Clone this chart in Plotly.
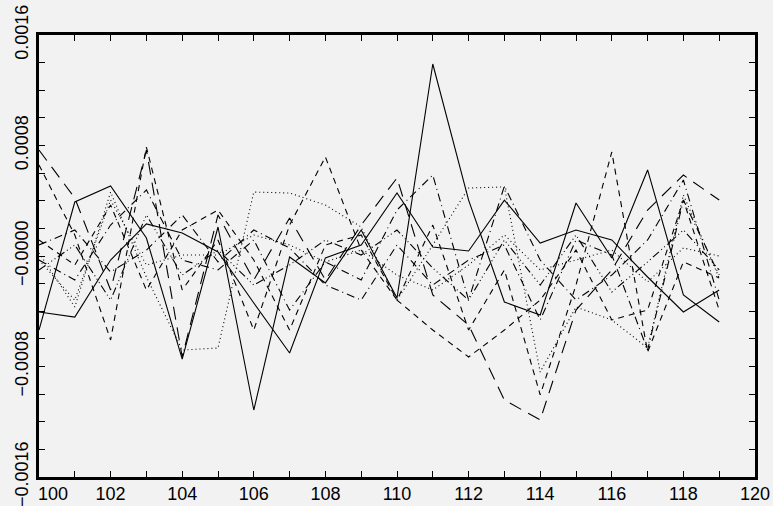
import plotly.graph_objects as go

x_vals = list(range(100, 120))

s1 = [-5.36e-4, 3.91e-4, 5.07e-4, 1.30e-4, -7.46e-4, 2.10e-4, -11.15e-4, -0.07e-4, -1.95e-4, 1.88e-4,
      -3.04e-4, 13.90e-4, 4.05e-4, -3.33e-4, -4.27e-4, 3.84e-4, -0.14e-4, 6.23e-4, -2.82e-4, -4.78e-4]
s2 = [-4.05e-4, -4.42e-4, -0.29e-4, 2.32e-4, 1.67e-4, 0.29e-4, -3.40e-4, -7.02e-4, -0.14e-4, 0.80e-4,
      4.56e-4, 0.65e-4, 0.36e-4, 4.05e-4, 0.94e-4, 1.88e-4, 1.16e-4, -1.52e-4, -4.05e-4, -2.46e-4]
p1 = [0.22e-4, -3.69e-4, 4.63e-4, -1.52e-4, -6.81e-4, -6.66e-4, 4.63e-4, 4.56e-4, 3.69e-4, 2.10e-4,
      -3.19e-4, 0.80e-4, 4.92e-4, 5.00e-4, -8.40e-4, -3.69e-4, -4.63e-4, -6.66e-4, 4.42e-4, -1.59e-4]
p2 = [-0.29e-4, -3.19e-4, 4.05e-4, -0.65e-4, 0.07e-4, 0.07e-4, 1.52e-4, 0.80e-4, -0.43e-4, 0.43e-4,
      -1.38e-4, -2.46e-4, -0.65e-4, 1.52e-4, -1.01e-4, -0.29e-4, 0.43e-4, -1.88e-4, 0.58e-4, 0.0]
d1 = [6.59e-4, 1.52e-4, -6.08e-4, 7.89e-4, -2.46e-4, 1.16e-4, -5.36e-4, 2.24e-4, 7.17e-4, 0.43e-4,
      -3.19e-4, 2.24e-4, -5.36e-4, -1.01e-4, -10.06e-4, -2.10e-4, 7.53e-4, -6.95e-4, -0.43e-4, -1.59e-4]
d2 = [1.16e-4, -0.65e-4, 3.69e-4, -2.46e-4, 1.88e-4, 3.33e-4, -0.29e-4, -5.36e-4, 0.80e-4, 1.52e-4,
      -3.19e-4, -5.36e-4, -7.31e-4, -5.36e-4, -3.19e-4, 0.43e-4, -4.63e-4, -3.91e-4, 4.05e-4, -3.91e-4]
ld1 = [7.67e-4, 4.20e-4, -2.46e-4, 7.67e-4, -7.31e-4, 2.97e-4, -1.74e-4, 2.75e-4, -1.74e-4, 2.24e-4,
       5.65e-4, -2.82e-4, -5.00e-4, -10.43e-4, -11.87e-4, -3.91e-4, -1.01e-4, 3.33e-4, 5.86e-4, 4.05e-4]
dd1 = [-0.29e-4, -1.74e-4, 2.24e-4, 4.78e-4, -0.29e-4, -1.01e-4, 1.16e-4, -3.91e-4, -0.43e-4, -1.74e-4,
       3.33e-4, 5.86e-4, -3.19e-4, 5.07e-4, -0.29e-4, -3.19e-4, -1.38e-4, 1.16e-4, 5.50e-4, -3.19e-4]
dd2 = [0.80e-4, 1.88e-4, -1.16e-4, 0.43e-4, 2.97e-4, -0.43e-4, 1.88e-4, 0.58e-4, -2.10e-4, -3.19e-4,
       0.80e-4, -2.10e-4, -0.29e-4, 0.80e-4, -4.63e-4, 1.16e-4, 0.07e-4, -6.81e-4, 4.05e-4, -1.38e-4]
ddd = [-1.01e-4, 0.80e-4, -3.19e-4, 2.97e-4, -1.38e-4, 0.43e-4, -2.10e-4, -0.65e-4, 1.16e-4, 0.07e-4,
       1.88e-4, -0.87e-4, -3.19e-4, 1.16e-4, -2.10e-4, 1.52e-4, -2.61e-4, -0.43e-4, 1.88e-4, -1.01e-4]

series = [s1, p1, d1, dd1, ddd, ld1, s2, p2, d2, dd2]
dashes = ["solid", "1px,3px", "6px,5px", "8px,4px,1px,4px",
          "8px,3px,1px,3px,1px,3px,1px,3px", "13px,8px",
          "solid", "1px,3px", "6px,5px", "8px,4px,1px,4px"]

x_tickvals = list(range(100, 121))
x_ticktext = ["" if (v % 2 or v == 100) else str(v) for v in x_tickvals]
y_tickvals = [round(i * 0.0002, 6) for i in range(-8, 9)]
y_labels = {-8: "\u22120.0016", -4: "\u22120.0008", 0: "\u22120.0000", 4: "0.0008", 8: "0.0016"}
y_ticktext = [y_labels.get(i, "") for i in range(-8, 9)]

FONT = "Liberation Sans, Arial, sans-serif"

fig = go.Figure()
for ys, dsh in zip(series, dashes):
    fig.add_trace(go.Scatter(x=x_vals, y=ys, mode="lines",
                             line=dict(color="black", width=1.1, dash=dsh),
                             showlegend=False, hoverinfo="skip"))

fig.add_annotation(x=100, y=0, xref="x", yref="paper", text="100", showarrow=False,
                   xanchor="left", yanchor="top", yshift=-5, xshift=-3,
                   font=dict(family=FONT, size=18, color="black"))

axis_common = dict(showgrid=False, zeroline=False, showline=True, linecolor="black",
                   linewidth=3, mirror="ticks", ticks="inside", ticklen=6, tickwidth=1,
                   tickcolor="black", automargin=False, ticklabeloverflow="allow")

fig.update_layout(
    width=773, height=506,
    margin=dict(l=39, r=18, t=35, b=29),
    paper_bgcolor="#f2f2f2", plot_bgcolor="#f2f2f2",
    font=dict(family=FONT, size=18, color="black"),
    xaxis=dict(range=[100, 120], tickmode="array", tickvals=x_tickvals, ticktext=x_ticktext,
               ticklabelstandoff=-2, **axis_common),
    yaxis=dict(range=[-0.0016, 0.0016], tickmode="array", tickvals=y_tickvals, ticktext=y_ticktext,
               tickangle=-90, ticklabelstandoff=1, **axis_common),
)

fig.write_html("out.html", config={"displayModeBar": False},
               post_script="document.body.style.margin='0px';document.body.style.overflow='hidden';")
